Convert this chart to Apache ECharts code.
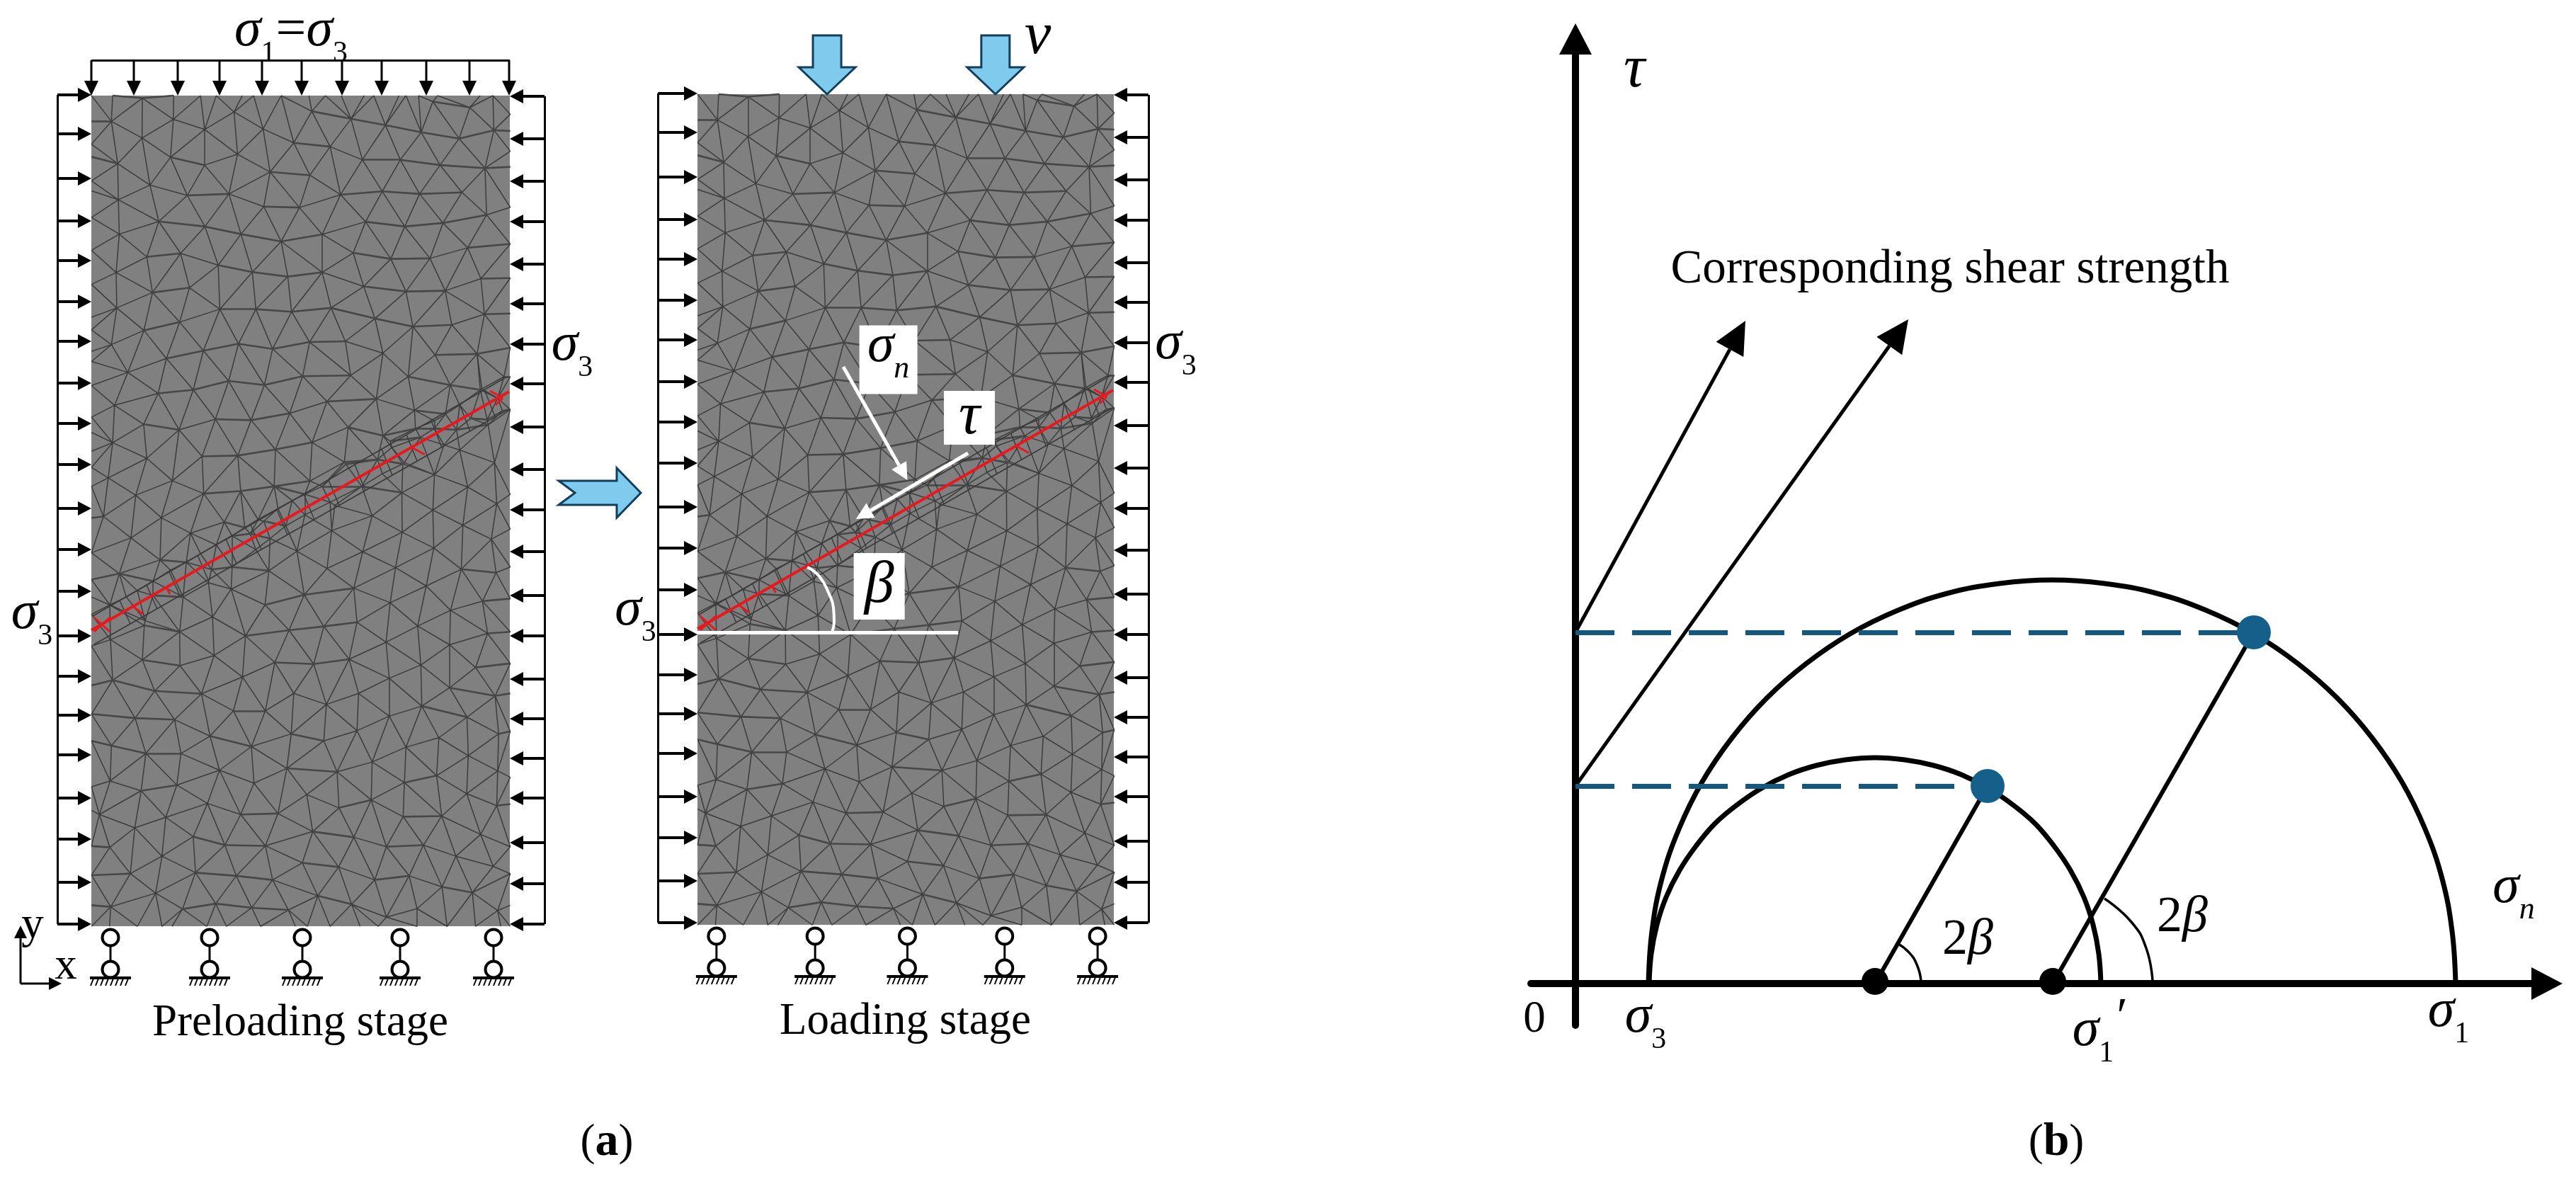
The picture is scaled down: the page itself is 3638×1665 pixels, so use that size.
<!DOCTYPE html>
<html>
<head>
<meta charset="utf-8">
<title>Specimen loading and Mohr circles</title>
<style>html,body{margin:0;padding:0;background:#fff}#main{width:3638px;height:1665px}</style>
<script src="https://cdn.jsdelivr.net/npm/echarts@6/dist/echarts.min.js"></script>
</head>
<body>
<div id="main"></div>
<script>
/* mesh nodes, upper and lower half of the specimen */
var meshNodesUpper = [
[155,98],[222,98],[415,98],[500,98],[550,98],[632,98],[668,98],[755,98],[843,98],[895,98],[945,98],[1018,98],[1048,98],[1128,98],[1150,98],[1190,98],[1250,98],[1385,98],[1425,98],[1480,98],
[155,200],[155,290],[155,340],[155,435],[155,475],[155,580],[155,710],[155,845],[155,975],[155,1025],[155,1110],[155,1150],[155,1245],[155,1370],[155,1430],[155,1505],
[1480,172],[1480,238],[1480,318],[1480,380],[1480,540],[1480,685],[1480,820],[1480,960],[1480,1095],[1480,1210],[1480,1340],
[218,200],[316,108],[414,192],[606,163],[852,160],[976,190],[1085,215],[1198,243],[1235,122],[1352,145],[1428,235],[1318,268],
[315,266],[513,232],[698,230],[795,285],[910,300],[1012,352],[1132,352],[1258,373],[1400,385],
[238,367],[405,342],[513,373],[617,330],[720,400],[846,413],
[340,452],[458,493],[590,487],[240,510],[700,537],[813,541],[943,490],[1075,477],[1193,487],[1327,481],
[368,596],[514,616],[628,646],[755,675],[885,647],[1022,597],[1146,616],[1267,602],[1405,570],
[243,646],[330,736],[437,722],[556,769],[664,796],[776,814],[885,797],[983,720],[1102,744],[1226,742],[1345,700],
[233,798],[348,877],[465,858],[1016,853],[1150,873],[1274,870],[1387,822],
[235,938],[561,943],[675,943],[788,953],[913,938],[1052,980],[1172,1012],[1295,1005],[1398,963],
[434,994],[321,1027],[218,1083],[620,1080],[728,1100],[845,1073],[958,1070],[1077,1117],[1242,1124],[1375,1120],
[509,1107],[392,1138],[270,1193],[589,1227],[702,1243],[823,1208],[975,1205],[1157,1210],[1290,1243],[1390,1258],
[477,1262],[366,1276],[228,1323],[900,1308],[1056,1298],[1177,1343],[1407,1380],[1275,1358],
[320,1398],[432,1420],[547,1378],[660,1382],[782,1355],[967,1410],[1077,1443],
[222,1471],[737,1498],[853,1470],[330,1533],[505,1525],[618,1522],[955,1548],
[1100,1465],[1180,1415],[1240,1385],[1320,1322],[1385,1262],[1460,1210],
[1140,1555],[1270,1480],[1320,1500],[1410,1400],
[1105,1490],[1195,1450],[1240,1415],[1310,1420],[1355,1375],[1455,1345],[1440,1295]
];
var meshNodesLower = [
[155,1497],[212,1497],[300,1497],[378,1497],[410,1497],[520,1497],[582,1497],[690,1497],[800,1497],[838,1497],[910,1497],[1005,1497],[1062,1497],[1185,1497],[1280,1497],[1370,1497],[1450,1497],[1480,1497],
[155,45],[155,105],[155,205],[155,315],[155,400],[155,455],[155,510],[155,610],[155,735],[155,825],[155,910],[155,1055],[155,1130],[155,1243],[155,1335],[155,1430],
[1480,130],[1480,240],[1480,360],[1480,460],[1480,565],[1480,665],[1480,760],[1480,880],[1480,1025],[1480,1110],[1480,1245],[1480,1330],[1480,1430],
[208,78],[411,87],[295,133],[510,128],[627,120],[733,105],[846,88],
[193,200],[376,204],[575,218],[280,268],[468,253],[372,338],[243,381],[597,430],[704,480],[828,448],[985,427],[213,480],[538,518],[322,545],[434,565],[642,578],[780,560],[890,548],[995,535],
[1137,125],[1235,180],[1345,107],[1437,160],[1240,68],[1430,30],[1330,228],[1043,198],[915,245],[1138,250],[1420,272],[805,310],[1013,312],[1238,300],[900,365],[1117,362],[1325,367],[1435,378],[716,372],[1214,420],[1100,473],[1291,497],[1392,468],
[1187,547],[1087,598],[1288,606],[1408,570],
[543,640],[316,654],[435,672],[735,662],[858,667],[970,652],[1197,670],[1370,678],
[222,718],[633,708],[1097,712],[1288,742],[1432,768],[355,752],[503,761],[795,760],[1000,760],[898,795],[1200,800],
[604,815],[705,815],[293,838],[418,843],[1097,832],[1343,835],[530,895],[787,888],[995,878],[890,910],[1254,900],[1443,888],
[218,925],[327,950],[438,950],[661,928],[1150,930],[1347,957],[1043,977],
[560,1003],[773,997],[932,1008],[1247,1020],[1440,1005],[214,1037],[425,1050],[669,1044],[1145,1042],
[312,1068],[836,1080],[1342,1077],[522,1108],[1040,1097],[938,1122],[1437,1115],[180,1143],
[627,1143],[745,1140],[1141,1150],[1263,1148],[390,1152],[292,1185],[855,1197],[1386,1206],[477,1213],[985,1215],
[213,1247],[577,1240],[705,1242],[1088,1245],[1205,1240],[378,1275],[1308,1275],
[278,1330],[484,1327],[613,1337],[822,1296],[937,1309],[1426,1307],[728,1350],[1051,1350],[1160,1337],[1264,1372],
[358,1392],[871,1400],[1360,1390],[443,1442],[548,1425],[662,1438],[778,1445],[978,1427],[216,1435],[1185,1441],[1440,1447],[1088,1468],
[265,455],[300,435],[350,405],[405,370],[455,345],[500,318],[550,290],[600,262],[640,235],[682,210],[745,175],[790,150],[830,130],[885,105],[960,35],
[215,590],[325,530],[445,455],[525,410],[600,360],[675,305],[720,270],[770,230],[830,195],[925,165],[1010,105],[1075,65],[1145,30],
[350,450],[535,368],[657,255],[700,215],[910,155],[1060,20]
];

/* loads around the specimen */
var leftLoadY = [-1,54,117,177,233,291,347,406,463,521,583,641,700,763,820,875,931,992,1050,1111,1170];
var rightLoadY = [1,61,121,178,238,294,351,407,468,528,585,644,706,763,824,880,936,992,1055,1113,1170];
var topLoadX = [0,60,122,181,241,297,354,410,473,534,590];
var supportX = [27,167,298,436,568];
var velocityX = [184,423];

/* fault trace and its refined band */
var faultLine = [[0,755],[590,418]];
var faultMarks = [[4,737,26,757],[4,757,26,737],[57,720,73,732],[106,695,111,704],[453,497,471,507],[581,427,563,417],[581,427,571,437]];
var bandEdges = [[[2,735],[587,397]],[[4,775],[589,443]]];
var bandRungs = [[40,713,55,746],[78,691,93,725],[110,673,125,706],[150,649,165,684],[190,626,205,661],[225,606,240,641],[262,585,277,620],[300,563,315,599],[335,543,350,579],[372,521,387,558],[410,499,425,536],[445,479,460,516],[480,459,495,497],[520,436,535,474],[555,415,570,453]];
var angleLine = [[0,760],[370,760]];
var angleArc = [[156,668],[173,681],[186,704],[193,725],[194,745],[191,760]];

/* Mohr circles */
var bigCircle = [[103,0],[108,74],[122,148],[146,218],[179,285],[221,347],[270,403],[326,452],[388,494],[455,527],[525,551],[599,565],[673,570],[747,565],[821,551],[891,527],[958,494],[1020,452],[1076,403],[1125,347],[1167,285],[1200,218],[1224,148],[1238,74],[1243,0]];
var smallCircle = [[104,0],[107,42],[115,83],[128,122],[147,160],[170,194],[197,226],[229,253],[263,276],[301,295],[340,308],[381,316],[423,319],[465,316],[506,308],[545,295],[583,276],[617,253],[649,226],[676,194],[699,160],[718,122],[731,83],[739,42],[742,0]];
var stressPoints = [[958,496],[582,279]];
var circleCentres = [[674,3],[423,3]];
var radiusLines = [[[674,0],[958,496]],[[423,0],[582,279]]];
var strengthLines = [[[0,496],[958,496]],[[0,279],[582,279]]];
var strengthArrows = [[0,496,240,936],[0,279,470,938]];
var angleArcSmall = [[454,57],[470,45],[482,27],[488,4]];
var angleArcBig = [[747,120],[785,87],[806,50],[815,4]];

/* texts: x, y, formatter */
var textsPreload = [
    [282,-80,'{s|σ}{d|1}{e|=}{s|σ}{d|3}'],
    [295,1310,'{p|Preloading stage}'],
    [679,364,'{s|σ}{d|3}'],
    [-84,743,'{s|σ}{d|3}'],
    [-83,1172,'{p|y}'],
    [-36,1230,'{p|x}'],
    [728,1479,'{p|(}{b|a}{p|)}']
];
var textsLoading = [
    [483,-80,'{v|v}'],
    [295,1310,'{p|Loading stage}'],
    [679,364,'{s|σ}{d|3}'],
    [-88,740,'{s|σ}{d|3}']
];
var boxTexts = [
    [271,375,82,97,'{s|σ}{i|n}'],
    [386,457,72,76,'{v|τ}'],
    [258,695,72,94,'{v|β}']
];
var textsMohr = [
    [83,1289,'{v|τ}'],
    [529,1008,'{c|Corresponding shear strength}'],
    [1325,124,'{s|σ}{i|n}'],
    [-58,-51,'{p|0}'],
    [99,-59,'{s|σ}{d|3}'],
    [731,-78,'{s|σ}{d|1}'],
    [772,-50,'{q|′}'],
    [1233,-51,'{s|σ}{d|1}'],
    [554,61,'{u|2}{t|β}'],
    [857,93,'{u|2}{t|β}'],
    [679,-225,'{p|(}{b|b}{p|)}']
];

var FONT = '"Liberation Serif"';
var richText = {
    s: {fontFamily: FONT, fontStyle: 'italic', fontSize: 76, color: '#000', lineHeight: 84, padding: [0, 0, 22, 0]},
    d: {fontFamily: FONT, fontSize: 42, color: '#000', verticalAlign: 'bottom', lineHeight: 42},
    i: {fontFamily: FONT, fontStyle: 'italic', fontSize: 44, color: '#000', verticalAlign: 'bottom', lineHeight: 44},
    p: {fontFamily: FONT, fontSize: 63, color: '#000'},
    c: {fontFamily: FONT, fontSize: 67, color: '#000'},
    e: {fontFamily: FONT, fontSize: 76, color: '#000', lineHeight: 84, padding: [0, 0, 22, 0]},
    q: {fontFamily: FONT, fontSize: 72, color: '#000'},
    u: {fontFamily: FONT, fontSize: 72, color: '#000'},
    b: {fontFamily: FONT, fontSize: 66, fontWeight: 'bold', color: '#000'},
    v: {fontFamily: FONT, fontStyle: 'italic', fontSize: 84, color: '#000'},
    t: {fontFamily: FONT, fontStyle: 'italic', fontSize: 72, color: '#000'}
};

/*转换读数到试样坐标*/
var meshNodes = meshNodesUpper.map(function (p) {
    return [p[0] * 0.4464 - 69, p[1] * 0.357 - 35];
}).concat(meshNodesLower.map(function (p) {
    return [p[0] * 0.4464 - 69, p[1] * 0.4464 + 505];
}));

/* Delaunay of the read nodes, gives the element edges */
function triangulate(pts) {
    var all = pts.concat([[-5000, -5000], [7000, -5000], [300, 9000]]);
    var n = pts.length;
    var tris = [circum(all, n, n + 1, n + 2)];
    for (var i = 0; i < n; i++) {
        var bad = [], keep = [];
        tris.forEach(function (t) {
            var dx = all[i][0] - t.x, dy = all[i][1] - t.y;
            if (dx * dx + dy * dy < t.r) bad.push(t); else keep.push(t);
        });
        var edgeCount = {};
        bad.forEach(function (t) {
            [[t.a, t.b], [t.b, t.c], [t.c, t.a]].forEach(function (e) {
                var k = Math.min(e[0], e[1]) + '_' + Math.max(e[0], e[1]);
                edgeCount[k] = (edgeCount[k] || 0) + 1;
            });
        });
        Object.keys(edgeCount).forEach(function (k) {
            if (edgeCount[k] === 1) {
                var e = k.split('_');
                keep.push(circum(all, +e[0], +e[1], i));
            }
        });
        tris = keep;
    }
    var edges = {};
    tris.forEach(function (t) {
        if (t.a >= n || t.b >= n || t.c >= n) return;
        [[t.a, t.b], [t.b, t.c], [t.c, t.a]].forEach(function (e) {
            edges[Math.min(e[0], e[1]) + '_' + Math.max(e[0], e[1])] = 1;
        });
    });
    return Object.keys(edges).map(function (k) {
        var e = k.split('_');
        return [pts[+e[0]], pts[+e[1]]];
    });
}
function circum(p, a, b, c) {
    var ax = p[a][0], ay = p[a][1], bx = p[b][0], by = p[b][1], cx = p[c][0], cy = p[c][1];
    var d = 2 * (ax * (by - cy) + bx * (cy - ay) + cx * (ay - by));
    var ux = ((ax * ax + ay * ay) * (by - cy) + (bx * bx + by * by) * (cy - ay) + (cx * cx + cy * cy) * (ay - by)) / d;
    var uy = ((ax * ax + ay * ay) * (cx - bx) + (bx * bx + by * by) * (ax - cx) + (cx * cx + cy * cy) * (bx - ax)) / d;
    return {a: a, b: b, c: c, x: ux, y: uy, r: (ax - ux) * (ax - ux) + (ay - uy) * (ay - uy)};
}
function onSameSide(e) {
    var a = e[0], b = e[1];
    return (a[0] < 2 && b[0] < 2) || (a[0] > 589 && b[0] > 589) || (a[1] < 2 && b[1] < 2) || (a[1] > 1171 && b[1] > 1171);
}
var meshEdges = triangulate(meshNodes).filter(function (e) { return !onSameSide(e); });
var flatEdges = meshEdges.filter(function (e) { return Math.abs(e[0][1] - e[1][1]) < 0.27 * Math.abs(e[0][0] - e[1][0]); });
var steepEdges = meshEdges.filter(function (e) { return flatEdges.indexOf(e) < 0; });

function linesSeries(g, segs, color, width, z, type) {
    return {
        type: 'lines', coordinateSystem: 'cartesian2d', xAxisIndex: g, yAxisIndex: g,
        polyline: false, clip: false, silent: true, z: z, animation: false,
        lineStyle: {color: color, width: width, opacity: 1, curveness: 0, type: type || 'solid'},
        data: segs.map(function (s) { return {coords: s}; })
    };
}
function curveSeries(g, pts, color, width, z, smooth) {
    return {
        type: 'line', xAxisIndex: g, yAxisIndex: g, data: pts, smooth: smooth, showSymbol: false, symbol: 'none',
        clip: false, silent: true, z: z, lineStyle: {color: color, width: width}
    };
}
function arrowSeries(g, arrows, headLen, headHalf, color, width, z) {
    return {
        type: 'custom', coordinateSystem: 'cartesian2d', xAxisIndex: g, yAxisIndex: g, z: z, silent: true,
        encode: {x: [0, 2], y: [1, 3]}, data: arrows,
        renderItem: function (params, api) {
            var a = api.coord([api.value(0), api.value(1)]);
            var b = api.coord([api.value(2), api.value(3)]);
            var dx = b[0] - a[0], dy = b[1] - a[1], len = Math.sqrt(dx * dx + dy * dy);
            var ux = dx / len, uy = dy / len;
            var bx = b[0] - ux * headLen, by = b[1] - uy * headLen;
            return {type: 'group', children: [
                {type: 'line', shape: {x1: a[0], y1: a[1], x2: bx, y2: by}, style: {stroke: color, lineWidth: width}},
                {type: 'polygon', shape: {points: [b, [bx - uy * headHalf, by + ux * headHalf], [bx + uy * headHalf, by - ux * headHalf]]}, style: {fill: color}}
            ]};
        }
    };
}
function blockArrowSeries(g, tips, outline) {
    return {
        type: 'custom', coordinateSystem: 'cartesian2d', xAxisIndex: g, yAxisIndex: g, z: 6, silent: true,
        encode: {x: 0, y: 1}, data: tips,
        renderItem: function (params, api) {
            var c = api.coord([api.value(0), api.value(1)]);
            return {type: 'polygon',
                shape: {points: outline.map(function (o) { return [c[0] + o[0], c[1] + o[1]]; })},
                style: {fill: '#7fcbee', stroke: '#123f5c', lineWidth: 3}};
        }
    };
}
function supportSeries(g) {
    return {
        type: 'custom', coordinateSystem: 'cartesian2d', xAxisIndex: g, yAxisIndex: g, z: 5, silent: true,
        encode: {x: 0, y: 1},
        data: supportX.map(function (x) { return [x, 1173]; }),
        renderItem: function (params, api) {
            var c = api.coord([api.value(0), api.value(1)]);
            var x = c[0], y = c[1];
            var kids = [
                {type: 'line', shape: {x1: x, y1: y + 28, x2: x, y2: y + 50}, style: {stroke: '#000', lineWidth: 3}},
                {type: 'circle', shape: {cx: x, cy: y + 16, r: 11.5}, style: {fill: '#fff', stroke: '#000', lineWidth: 4}},
                {type: 'circle', shape: {cx: x, cy: y + 61, r: 11.5}, style: {fill: '#fff', stroke: '#000', lineWidth: 4}},
                {type: 'line', shape: {x1: x - 29, y1: y + 73, x2: x + 29, y2: y + 73}, style: {stroke: '#000', lineWidth: 4}}
            ];
            for (var i = 0; i < 8; i++) {
                var hx = x - 24 + i * 7;
                kids.push({type: 'line', shape: {x1: hx, y1: y + 74, x2: hx - 4, y2: y + 84}, style: {stroke: '#000', lineWidth: 2}});
            }
            return {type: 'group', children: kids};
        }
    };
}
function textSeries(g, items) {
    return {
        type: 'scatter', xAxisIndex: g, yAxisIndex: g, symbolSize: 1, clip: false, silent: true, z: 12,
        itemStyle: {color: 'transparent', opacity: 1},
        data: items.map(function (t) {
            return {value: [t[0], t[1]], label: {show: true, position: 'inside', formatter: t[2], rich: richText}};
        })
    };
}
function toSegs(list) {
    return list.map(function (m) { return [[m[0], m[1]], [m[2], m[3]]]; });
}

/*加载边界:两个试样共用*/
function specimenSeries(g, frameLeft, topLoad) {
    var out = [
        linesSeries(g, steepEdges, '#3c3c3c', 1.5, 2),
        linesSeries(g, flatEdges, '#474747', 2.6, 2),
        linesSeries(g, bandEdges, '#3a3a3a', 1.7, 3),
        linesSeries(g, toSegs(bandRungs), '#3a3a3a', 1.5, 3),
        linesSeries(g, [faultLine], '#e8191e', 4, 4),
        linesSeries(g, toSegs(faultMarks), '#e8191e', 3, 4)
    ];
    out.push(linesSeries(g, [[[frameLeft, leftLoadY[0]], [frameLeft, 1170]]], '#000', 3, 5));
    out.push(linesSeries(g, [[[640, rightLoadY[0]], [640, 1170]]], '#000', 3, 5));
    out.push(arrowSeries(g, leftLoadY.map(function (y) { return [frameLeft, y, 0, y]; }), 19, 10, '#000', 4, 6));
    out.push(arrowSeries(g, rightLoadY.map(function (y) { return [640, y, 591, y]; }), 19, 10, '#000', 4, 6));
    out.push(supportSeries(g));
    if (topLoad) {
        out.push(linesSeries(g, [[[0, -50], [591, -50]]], '#000', 3, 5));
        out.push(arrowSeries(g, topLoadX.map(function (x) { return [x, -50, x, 0]; }), 21, 10, '#000', 3, 6));
    }
    return out;
}

var series = [].concat(
    specimenSeries(0, -48, true),
    specimenSeries(1, -56, false),
    [
        arrowSeries(0, [[-100, 1254, -100, 1172], [-100, 1254, -42, 1254]], 18, 9, '#000', 3, 6),
        blockArrowSeries(0, [[776, 561]], [[0, 0], [-34, -35], [-34, -17], [-116, -17], [-93, 0], [-116, 17], [-34, 17], [-34, 35]]),
        blockArrowSeries(1, velocityX.map(function (x) { return [x, 0]; }), [[0, 0], [40, -38], [20, -38], [20, -83], [-20, -83], [-20, -38], [-40, -38]]),
        linesSeries(1, [angleLine], '#fff', 5, 7),
        curveSeries(1, angleArc, '#fff', 4, 7, true),
        arrowSeries(1, [[207, 385, 298, 545], [384, 507, 225, 600]], 24, 12, '#fff', 5, 7),
        textSeries(0, textsPreload),
        textSeries(1, textsLoading),
        {
            type: 'scatter', xAxisIndex: 1, yAxisIndex: 1, symbolSize: 1, clip: false, silent: true, z: 8,
            itemStyle: {color: 'transparent', opacity: 1},
            data: boxTexts.map(function (t) {
                return {value: [t[0], t[1]], label: {
                    show: true, position: 'inside', formatter: t[4], rich: richText, backgroundColor: '#fff',
                    width: t[2], height: t[3], align: 'center', verticalAlign: 'middle', lineHeight: t[3]
                }};
            })
        },
        curveSeries(2, bigCircle, '#000', 7, 4, 0.4),
        curveSeries(2, smallCircle, '#000', 7, 4, 0.4),
        curveSeries(2, angleArcSmall, '#000', 3.5, 4, true),
        curveSeries(2, angleArcBig, '#000', 3.5, 4, true),
        linesSeries(2, radiusLines, '#000', 6, 4),
        linesSeries(2, strengthLines, '#15587e', 7, 5, [55, 25]),
        arrowSeries(2, strengthArrows, 46, 22, '#000', 5, 4),
        {type: 'scatter', xAxisIndex: 2, yAxisIndex: 2, symbolSize: 48, clip: false, silent: true, z: 6, itemStyle: {color: '#14608a', opacity: 1}, data: stressPoints},
        {type: 'scatter', xAxisIndex: 2, yAxisIndex: 2, symbolSize: 38, clip: false, silent: true, z: 6, itemStyle: {color: '#000', opacity: 1}, data: circleCentres},
        textSeries(2, textsMohr)
    ]
);

function hiddenAxis(g, min, max, inverse) {
    return {type: 'value', gridIndex: g, min: min, max: max, inverse: inverse, show: false};
}
function mohrAxis(min, max) {
    return {
        type: 'value', gridIndex: 2, min: min, max: max,
        axisLine: {show: true, onZero: true, symbol: ['none', 'triangle'], symbolSize: [46, 44], lineStyle: {color: '#000', width: 10}},
        axisTick: {show: false}, axisLabel: {show: false}, splitLine: {show: false}
    };
}

var chart = echarts.init(document.getElementById('main'));
chart.setOption({
    backgroundColor: '#fff',
    animation: false,
    grid: [
        {left: 129, top: 135, width: 591, height: 1173, show: true, backgroundColor: '#808080', borderWidth: 0},
        {left: 985, top: 133, width: 588, height: 1173, show: true, backgroundColor: '#808080', borderWidth: 0},
        {left: 2162, top: 55, width: 1435, height: 1393}
    ],
    xAxis: [hiddenAxis(0, 0, 591, false), hiddenAxis(1, 0, 591, false), mohrAxis(-63, 1372)],
    yAxis: [hiddenAxis(0, 0, 1173, true), hiddenAxis(1, 0, 1173, true), mohrAxis(-59, 1334)],
    series: series
});
</script>
</body>
</html>
